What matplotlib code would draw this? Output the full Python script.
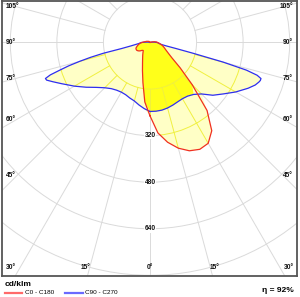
import matplotlib
matplotlib.use("Agg")
import matplotlib.pyplot as plt
import numpy as np
from matplotlib.patches import Circle, Polygon

plt.rcParams['font.family'] = ['Liberation Sans', 'DejaVu Sans']

# gamma angle from nadir (deg), intensities in cd/klm
gamma = [0, 5, 10, 15, 20, 25, 30, 35, 40, 45, 50, 55, 60, 65, 68, 70, 71, 72, 73,
         74, 75, 76, 77, 78, 80, 85, 90, 95, 100, 105, 110, 120, 130, 140, 150, 160, 170, 180]
c0 = [252, 312, 348, 376, 396, 405, 400, 370, 305, 205, 135, 92, 72, 60, 55, 52, 51, 49, 48,
      47, 45, 44, 43, 41, 38, 32, 26, 22, 15, 8, 3, 0, 0, 0, 0, 0, 0, 0]
c180 = [252, 205, 140, 100, 75, 60, 50, 42, 36, 38, 45, 50, 53, 53, 52, 50, 49, 48, 47,
        46, 45, 44, 43, 42, 40, 35, 28, 22, 17, 14, 12, 8, 6, 5, 3, 2, 1, 0]
c90 = [237, 237, 236, 233, 229, 225, 223, 225, 233, 250, 282, 308, 340, 372, 390, 398, 401, 401, 385,
       345, 260, 150, 90, 60, 40, 30, 25, 15, 8, 4, 0, 0, 0, 0, 0, 0, 0, 0]
c270 = [237, 228, 218, 208, 203, 198, 197, 200, 207, 220, 240, 268, 300, 335, 360, 378, 380, 360, 323,
        290, 250, 210, 165, 100, 65, 38, 30, 15, 8, 4, 0, 0, 0, 0, 0, 0, 0, 0]

rings = [160, 320, 480, 640, 800]
ring_labels = [320, 480, 640]
side_ticks = [45, 60, 75, 90, 105]
bottom_ticks = [0, 15, 30]

PX = 0.291          # pixels per cd/klm
CX, CY = 150, 42.5  # pole position in pixels
W, H = 300, 297


def outline(right, left):
    g = np.radians(gamma)
    r = np.asarray(right, float)
    l = np.asarray(left, float)
    x = np.concatenate([r * np.sin(g), -l[::-1] * np.sin(g[::-1])])
    y = np.concatenate([-r * np.cos(g), -l[::-1] * np.cos(g[::-1])])
    return np.column_stack([x, y])


def draw_grid(ax, color, z, clip=None):
    arts = []
    for r in rings:
        c = Circle((0, 0), r, fill=False, ec=color, lw=0.7, zorder=z)
        ax.add_patch(c)
        arts.append(c)
    for a in range(0, 360, 15):
        t = np.radians(a)
        ln, = ax.plot([160 * np.sin(t), 2000 * np.sin(t)],
                      [-160 * np.cos(t), -2000 * np.cos(t)], color=color, lw=0.7, zorder=z)
        arts.append(ln)
    if clip is not None:
        for art in arts:
            art.set_clip_path(clip)


fig = plt.figure(figsize=(W / 100, H / 100), dpi=100)
left, right, top, bottom = 1.5, 297, 1, 275.5
ax = fig.add_axes([left / W, (H - bottom) / H, (right - left) / W, (bottom - top) / H])
ax.set_xlim((left - CX) / PX, (right - CX) / PX)
ax.set_ylim(-(bottom - CY) / PX, (CY - top) / PX)
ax.set_xticks([])
ax.set_yticks([])
for s in ax.spines.values():
    s.set_color('#555555')
    s.set_linewidth(1.3)

draw_grid(ax, '#dadada', 1)

union = Polygon(outline(np.maximum(c0, c90), np.maximum(c180, c270)),
                closed=True, fc='#FFFFC6', ec='none', zorder=2)
ax.add_patch(union)
inter = Polygon(outline(np.minimum(c0, c90), np.minimum(c180, c270)),
                closed=True, fc='#FFFF1A', ec='none', zorder=3)
ax.add_patch(inter)
draw_grid(ax, '#F0F040', 4, clip=union)

red = outline(c0, c180)
blue = outline(c90, c270)
ax.plot(np.append(red[:, 0], red[0, 0]), np.append(red[:, 1], red[0, 1]),
        color='#F03020', lw=0.9, zorder=6)
ax.plot(np.append(blue[:, 0], blue[0, 0]), np.append(blue[:, 1], blue[0, 1]),
        color='#2E2EF0', lw=0.9, zorder=5)

lab = dict(fontsize=4.8, fontweight='bold', color='#111111', zorder=7)
for r in ring_labels:
    ax.text(0, -r, str(r), ha='center', va='center',
            bbox=dict(fc='white', ec='none', pad=0.2), **lab)

# angle labels on the frame
dx = 133 / PX
for a in side_ticks:
    y = -dx / np.tan(np.radians(a))
    ax.text((left + 4 - CX) / PX, y, f'{a}°', ha='left', va='center', **lab)
    ax.text((right - 4 - CX) / PX, y, f'{a}°', ha='right', va='center', **lab)
yb = -225 / PX
for a in bottom_ticks:
    x = 225 / PX * np.tan(np.radians(a)) * 1.07
    ax.text(-x, yb, f'{a}°', ha='center', va='center', **lab)
    if a:
        ax.text(x, yb, f'{a}°', ha='center', va='center', **lab)

# footer
fig.text(5 / W, 1 - 284 / H, 'cd/klm', fontsize=6, fontweight='bold', va='center', ha='left')
fig.lines.append(plt.Line2D([5 / W, 22 / W], [1 - 292.5 / H] * 2, color='#FF6A6A', lw=1.6,
                            transform=fig.transFigure))
fig.text(25 / W, 1 - 292.5 / H, 'C0 - C180', fontsize=4.6, va='center', ha='left')
fig.lines.append(plt.Line2D([65 / W, 83 / W], [1 - 292.5 / H] * 2, color='#6A6AFF', lw=1.6,
                            transform=fig.transFigure))
fig.text(85 / W, 1 - 292.5 / H, 'C90 - C270', fontsize=4.6, va='center', ha='left')
fig.text(293.5 / W, 1 - 291 / H, 'η = 92%', fontsize=6, fontweight='bold', va='center', ha='right')

fig.savefig('out.png', dpi=100)
